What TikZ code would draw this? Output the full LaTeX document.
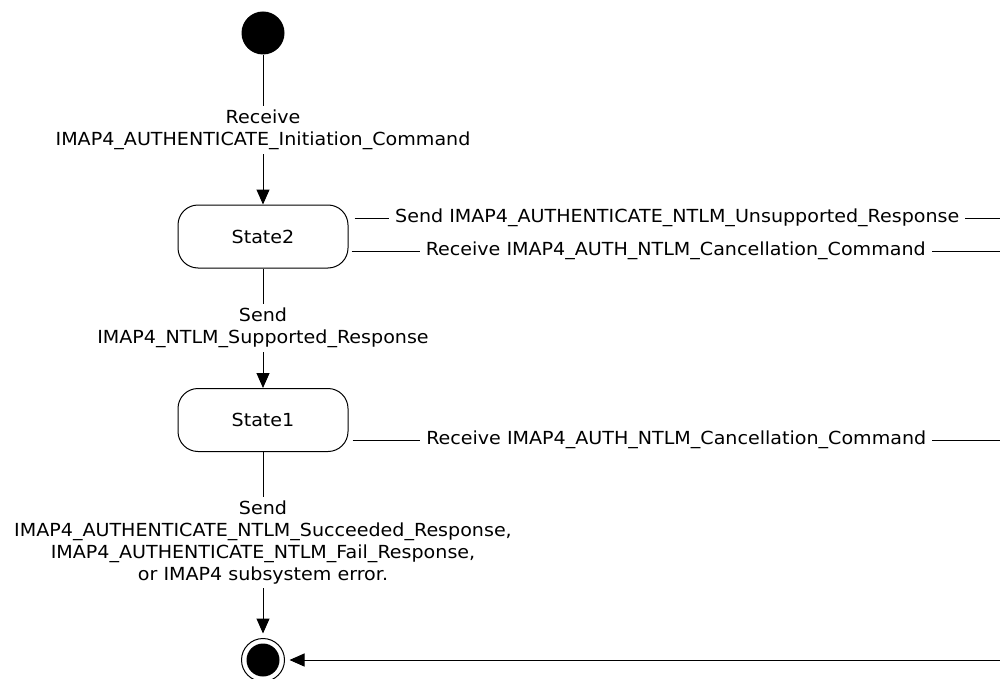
\documentclass[tikz,border=0pt]{standalone}
\usepackage{fontspec}
\setmainfont[FakeStretch=1.06]{DejaVu Sans}
\usetikzlibrary{arrows.meta}

\begin{document}
\begin{tikzpicture}[x=1pt,y=-1pt,font=\fontsize{18}{22}\selectfont]
\tikzset{>={Triangle[width=13pt,length=15pt]}}
\tikzstyle{start} =[circle, fill=black, inner sep=0pt, minimum size=43pt]
\tikzstyle{stop} =[circle, draw=black, line width=1pt, inner sep=0pt, minimum size=43pt, outer sep=5pt,
  path picture={\fill[black] (path picture bounding box.center) circle (16.5pt);}]
\tikzstyle{state} =[rectangle, draw=black, line width=1pt, rounded corners=20pt, minimum width=170pt, minimum height=63pt]
\tikzstyle{lbl} =[fill=white, align=center, inner xsep=6pt, inner ysep=4pt]
\useasboundingbox (0,0) rectangle (1000,679);

\node[start](init) at (263,33){};
\node[state](st2) at (263,236.5){State2};
\node[state](st1) at (263,420){State1};
\node[stop](fin) at (263,660){};
\coordinate (out1) at (1000,218);
\coordinate (out2) at (1000,251);
\coordinate (out3) at (1000,440);
\coordinate (back) at (1000,660);

\draw [->,line width=1pt] (init) -- node[lbl]{Receive\\IMAP4\_AUTHENTICATE\_Initiation\_Command} (st2);
\draw [->,line width=1pt] (st2) -- node[lbl]{Send\\IMAP4\_NTLM\_Supported\_Response} (st1);
\draw [->,line width=1pt] (st1) -- node[lbl]{Send\\IMAP4\_AUTHENTICATE\_NTLM\_Succeeded\_Response,\\IMAP4\_AUTHENTICATE\_NTLM\_Fail\_Response,\\or IMAP4 subsystem error.} (fin);
\draw [line width=1pt] ([xshift=6pt,yshift=18.5pt]st2.east) -- node[lbl]{Send IMAP4\_AUTHENTICATE\_NTLM\_Unsupported\_Response} (out1);
\draw [line width=1pt] ([xshift=3pt,yshift=-14.5pt]st2.east) -- node[lbl]{Receive IMAP4\_AUTH\_NTLM\_Cancellation\_Command} (out2);
\draw [line width=1pt] ([xshift=4pt,yshift=-20pt]st1.east) -- node[lbl]{Receive IMAP4\_AUTH\_NTLM\_Cancellation\_Command} (out3);
\draw [->,line width=1pt] (back) -- (fin);
\end{tikzpicture}
\end{document}
